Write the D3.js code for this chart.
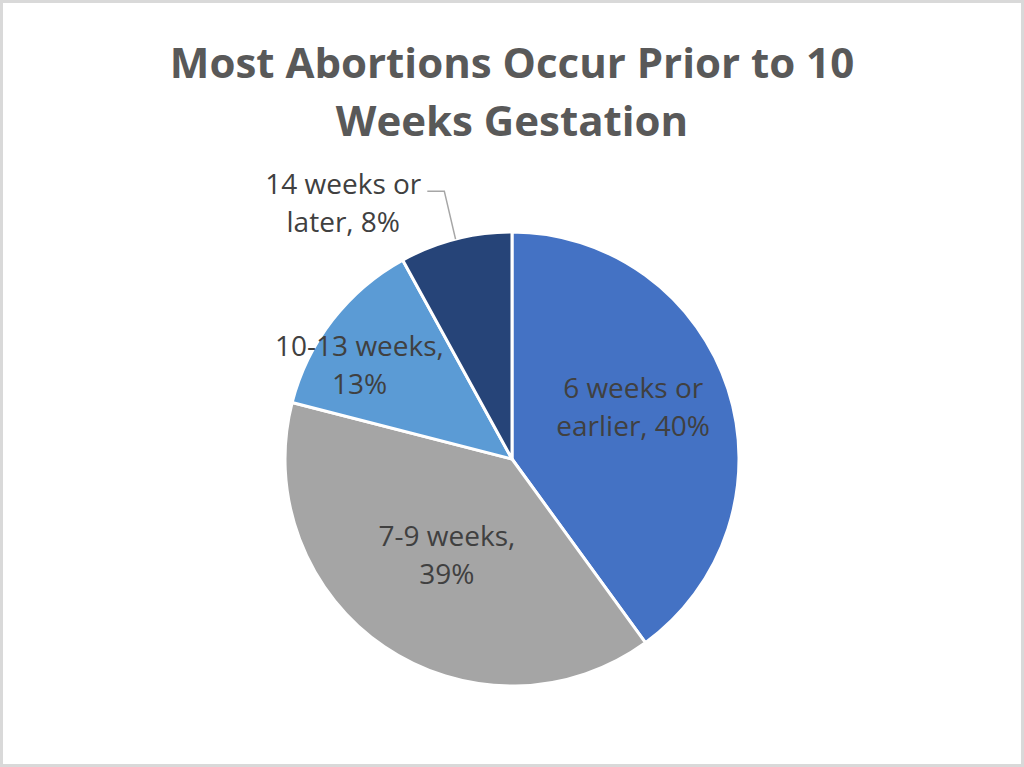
<!DOCTYPE html>
<html>
<head>
<meta charset="utf-8">
<script src="https://cdn.jsdelivr.net/npm/d3@7"></script>
<style>
  body { margin: 0; background: #fff; }
  text { font-family: "Open Sans", sans-serif; }
</style>
</head>
<body>
<svg width="1024" height="767"></svg>
<script>
// data
var categories = ["6 weeks or earlier", "7-9 weeks", "10-13 weeks", "14 weeks or later"];
var values = [40, 39, 13, 8];
var colors = ["#4472C4", "#A5A5A5", "#5B9BD5", "#264478"];
var titleLines = ["Most Abortions Occur Prior to 10", "Weeks Gestation"];

var svg = d3.select("svg"),
    width = +svg.attr("width"),
    height = +svg.attr("height");

// chart frame
svg.append("rect")
    .attr("x", 1.5).attr("y", 1.5)
    .attr("width", width - 3).attr("height", height - 3)
    .attr("fill", "#fff")
    .attr("stroke", "#d9d9d9")
    .attr("stroke-width", 3);

// title
svg.append("g").selectAll("text")
    .data(titleLines)
    .join("text")
    .attr("x", 512)
    .attr("y", (d, i) => 78 + i * 58)
    .attr("text-anchor", "middle")
    .attr("font-size", 42)
    .attr("font-weight", "bold")
    .attr("fill", "#595959")
    .text(d => d);

var cx = 512, cy = 459, radius = 227;

var g = svg.append("g")
    .attr("transform", "translate(" + cx + "," + cy + ")");

var pie = d3.pie().sort(null).value(d => d);
var arcs = pie(values);

var path = d3.arc().innerRadius(0).outerRadius(radius);

g.selectAll(".slice")
    .data(arcs)
    .join("path")
    .attr("class", "slice")
    .attr("d", path)
    .attr("fill", (d, i) => colors[i])
    .attr("stroke", "#fff")
    .attr("stroke-width", 3)
    .attr("stroke-linejoin", "round");

// label placement (best fit): fraction along the slice angle, radius factor
var labelAngle = [0.465, 0.5, 0.37, -0.16];
var labelRadius = [0.58, 0.51, 0.79, 1.35];
var lineHeight = 38;

function wrap(str, maxW, measure) {
    var words = str.split(" "), lines = [], cur = "";
    words.forEach(w => {
        var t = cur ? cur + " " + w : w;
        if (cur && measure(t) > maxW) { lines.push(cur); cur = w; }
        else cur = t;
    });
    lines.push(cur);
    return lines;
}

var probe = svg.append("text").attr("font-size", 28).attr("visibility", "hidden");
var measure = s => { probe.text(s); return probe.node().getComputedTextLength(); };

arcs.forEach((d, i) => {
    var a = d.startAngle + labelAngle[i] * (d.endAngle - d.startAngle);
    var r = labelRadius[i] * radius;
    var lx = r * Math.sin(a), ly = -r * Math.cos(a);
    var lines = wrap(categories[i] + ", " + d3.format(".0%")(values[i] / d3.sum(values)), 172, measure);

    var t = g.append("text")
        .attr("text-anchor", "middle")
        .attr("font-size", 28)
        .attr("fill", "#404040");
    lines.forEach((ln, j) => {
        t.append("tspan")
            .attr("x", lx)
            .attr("y", ly + (j - (lines.length - 1) / 2) * lineHeight + 10)
            .text(ln);
    });

    if (labelRadius[i] > 1) {
        // leader line from the first line's end to the slice edge
        var w0 = measure(lines[0]);
        var y0 = ly - (lines.length - 1) / 2 * lineHeight + 7;
        var x0 = lx + w0 / 2 + 6;
        var mid = (d.startAngle + d.endAngle) / 2;
        g.append("polyline")
            .attr("points", [
                [x0, y0], [x0 + 17, y0],
                [radius * Math.sin(mid), -radius * Math.cos(mid)]
            ].map(p => p.join(",")).join(" "))
            .attr("fill", "none")
            .attr("stroke", "#a6a6a6")
            .attr("stroke-width", 1.5);
    }
});
probe.remove();
</script>
</body>
</html>
